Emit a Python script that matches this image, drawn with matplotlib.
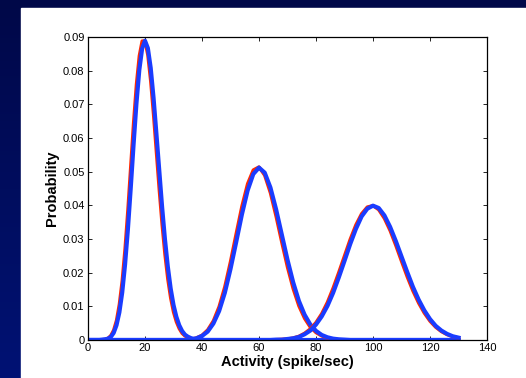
import numpy as np
import matplotlib
matplotlib.use('Agg')
import matplotlib.pyplot as plt
from matplotlib.patches import Rectangle

# firing rate axes (spikes/sec): the narrow curve is read every 1, the wide ones every 2
rates_fine = np.arange(0, 131, 1)
rates = np.arange(0, 131, 2)

# red: probability curves, blue: estimated curves
red_low = [0] * 5 + [0.0001, 0.0002, 0.0005, 0.0013, 0.0029, 0.0058, 0.0106, 0.0176,
                     0.0271, 0.0387, 0.0517, 0.0646, 0.0760, 0.0844, 0.0888, 0.0888,
                     0.0846, 0.0769, 0.0669, 0.0557, 0.0446, 0.0343, 0.0254, 0.0181,
                     0.0125, 0.0083, 0.0054, 0.0034, 0.0020, 0.0012, 0.0007, 0.0004,
                     0.0002, 0.0001, 0.0001] + [0] * 91
blue_low = [0] * 5 + [0.0001, 0.0002, 0.0004, 0.0009, 0.0021, 0.0044, 0.0082, 0.0141,
                      0.0224, 0.0329, 0.0452, 0.0582, 0.0703, 0.0802, 0.0866, 0.0889,
                      0.0867, 0.0808, 0.0719, 0.0613, 0.0502, 0.0395, 0.0299, 0.0218,
                      0.0153, 0.0104, 0.0069, 0.0044, 0.0027, 0.0016, 0.0010, 0.0006,
                      0.0003, 0.0002, 0.0001, 0.0001] + [0] * 90

red_mid = [0] * 17 + [0.0001, 0.0002, 0.0006, 0.0014, 0.0030, 0.0057, 0.0099, 0.0158,
                      0.0233, 0.0316, 0.0397, 0.0464, 0.0505, 0.0514, 0.0489, 0.0437,
                      0.0367, 0.0290, 0.0216, 0.0152, 0.0101, 0.0064, 0.0038, 0.0022,
                      0.0012, 0.0006, 0.0003, 0.0001, 0.0001] + [0] * 20
blue_mid = [0] * 18 + [0.0002, 0.0005, 0.0012, 0.0025, 0.0049, 0.0086, 0.0140, 0.0211,
                       0.0291, 0.0373, 0.0444, 0.0493, 0.0512, 0.0497, 0.0453, 0.0388,
                       0.0313, 0.0238, 0.0171, 0.0116, 0.0075, 0.0046, 0.0027, 0.0015,
                       0.0008, 0.0004, 0.0002, 0.0001] + [0] * 20

red_high = [0] * 33 + [0.0001, 0.0002, 0.0003, 0.0006, 0.0011, 0.0020, 0.0033, 0.0052,
                       0.0078, 0.0112, 0.0154, 0.0201, 0.0250, 0.0299, 0.0342, 0.0375,
                       0.0395, 0.0399, 0.0387, 0.0361, 0.0325, 0.0281, 0.0234, 0.0188,
                       0.0146, 0.0110, 0.0080, 0.0056, 0.0038, 0.0025, 0.0016, 0.0010,
                       0.0006]
blue_high = [0] * 33 + [0.0001, 0.0001, 0.0003, 0.0005, 0.0009, 0.0017, 0.0028, 0.0046,
                        0.0070, 0.0101, 0.0140, 0.0186, 0.0235, 0.0285, 0.0330, 0.0367,
                        0.0390, 0.0399, 0.0392, 0.0370, 0.0336, 0.0294, 0.0248, 0.0202,
                        0.0158, 0.0120, 0.0088, 0.0062, 0.0042, 0.0028, 0.0018, 0.0011,
                        0.0007]

x_ticks = [0, 20, 40, 60, 80, 100, 120, 140]
y_ticks = [0, 0.01, 0.02, 0.03, 0.04, 0.05, 0.06, 0.07, 0.08, 0.09]
y_tick_labels = ['0', '0.01', '0.02', '0.03', '0.04', '0.05', '0.06', '0.07', '0.08', '0.09']

plt.rcParams['font.family'] = ['Liberation Sans', 'DejaVu Sans']

fig = plt.figure(figsize=(5.26, 3.78), dpi=100)

# slide background: dark blue gradient with a white panel on it
bg = fig.add_axes([0, 0, 1, 1], zorder=-10)
grad = np.linspace(0, 1, 256).reshape(-1, 1)
cmap = matplotlib.colors.LinearSegmentedColormap.from_list('slide', ['#000848', '#001274'])
bg.imshow(grad, aspect='auto', cmap=cmap, extent=[0, 1, 0, 1], origin='upper')
bg.add_patch(Rectangle((21 / 526, 0), 1, 1 - 8 / 378, color='white', transform=bg.transAxes))
bg.set_xlim(0, 1)
bg.set_ylim(0, 1)
bg.axis('off')

ax = fig.add_axes([88 / 526, 1 - 340 / 378, (487 - 88) / 526, (340 - 37) / 378])
curves = [(rates_fine, red_low, blue_low), (rates, red_mid, blue_mid), (rates, red_high, blue_high)]
for xs, red, blue in curves:
    ax.plot(xs, red, color='#ff2a00', lw=2.4, solid_joinstyle='round')
    ax.plot(xs, blue, color='#1a3cff', lw=3.0, solid_joinstyle='round')

ax.set_xlim(0, 140)
ax.set_ylim(0, 0.09)
ax.set_xticks(x_ticks)
ax.set_yticks(y_ticks)
ax.set_yticklabels(y_tick_labels)
ax.tick_params(direction='in', length=3, width=0.6, labelsize=8, top=True, right=True, pad=2.5)
for s in ax.spines.values():
    s.set_linewidth(0.9)
ax.set_xlabel('Activity (spike/sec)', fontsize=10.5, fontweight='bold', labelpad=1)
ax.set_ylabel('Probability', fontsize=10.5, fontweight='bold', labelpad=3)

fig.savefig('out.png', dpi=100)
